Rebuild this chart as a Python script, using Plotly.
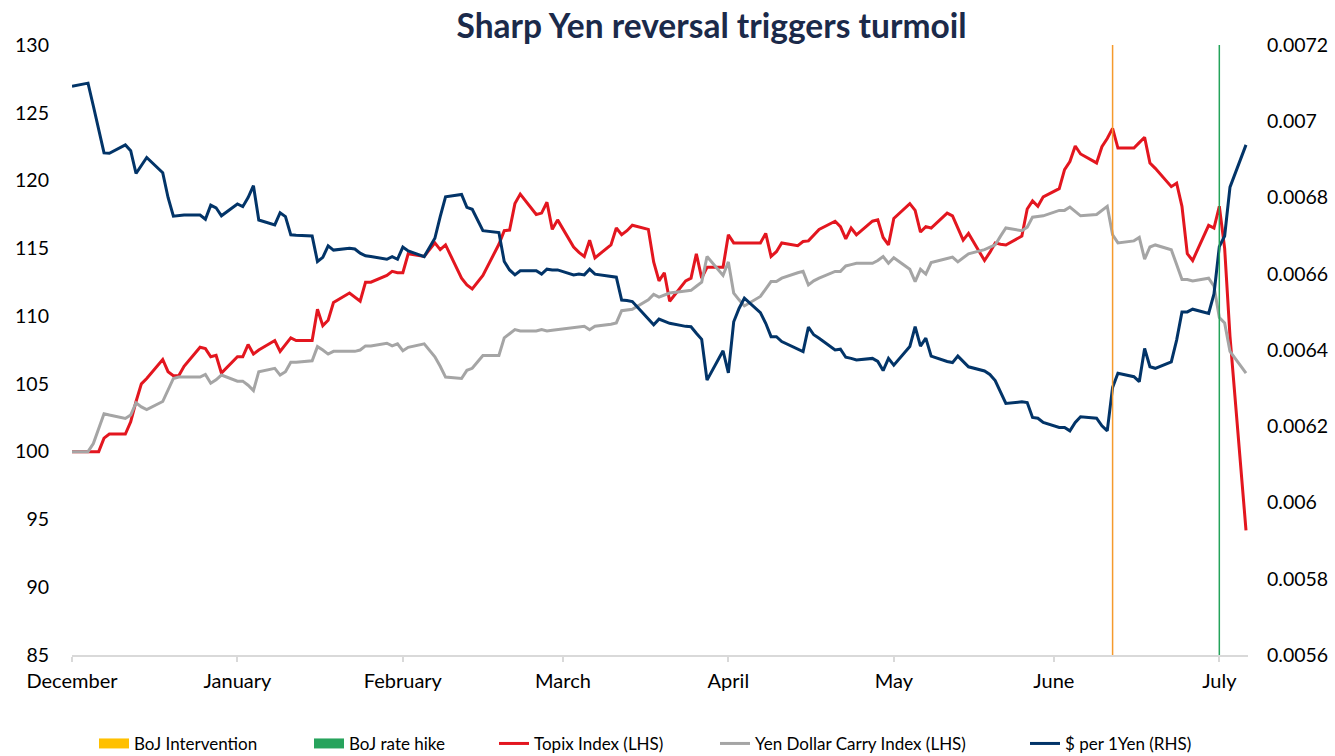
import pandas as pd
import plotly.graph_objects as go

# ---------------- data (weekdays, 29 Dec 2023 -> 5 Aug 2024) ----------------
dates = pd.bdate_range("2023-12-29", "2024-08-05")

topix = [
    100.0,
    100.0, 100.0, 100.0, 101.0, 101.3,
    101.3, 102.2, 103.7, 105.0, 105.4,
    106.8, 105.9, 105.6, 105.6, 106.3,
    107.7, 107.6, 107.0, 107.1, 105.8,
    107.0, 107.0, 107.9, 107.2, 107.5,
    108.2, 107.4, 107.9, 108.4, 108.2,
    108.2, 110.5, 109.3, 109.7, 111.0,
    111.7, 111.4, 111.1, 112.5, 112.5,
    113.0, 113.3, 113.2, 113.2, 114.6,
    114.4, 114.9, 115.4, 114.9, 115.25,
    112.8, 112.3, 112.0, 112.5, 113.0,
    115.3, 116.3, 116.35, 118.3, 119.0,
    117.5, 117.6, 118.4, 116.4, 117.1,
    115.1, 114.7, 114.4, 115.6, 114.3,
    115.25, 116.5, 116.0, 116.3, 116.7,
    116.4, 114.0, 112.6, 113.2, 111.1,
    112.6, 112.8, 114.6, 112.8, 113.6,
    113.6, 116.0, 115.4, 115.4, 115.4,
    115.4, 116.1, 114.4, 114.75, 115.4,
    115.2, 115.5, 115.55, 116.0, 116.4,
    117.0, 116.6, 115.7, 116.5, 116.0,
    117.0, 117.1, 115.8, 115.25, 117.2,
    118.3, 117.8, 116.2, 116.6, 116.5,
    117.6, 117.4, 116.5, 115.6, 116.1,
    114.1, 114.7, 115.4, 115.3, 115.25,
    115.9, 117.9, 118.5, 118.1, 118.8,
    119.4, 120.8, 121.4, 122.55, 121.96,
    121.3, 122.5, 123.1, 123.85, 122.4,
    122.4, 122.8, 123.2, 121.3, 120.9,
    119.55, 119.8, 118.1, 114.6, 114.1,
    116.7, 116.5, 118.1, 115.0, 108.5,
    94.2,
]

carry = [
    100.0,
    100.0, 100.6, 101.7, 102.8, 102.7,
    102.45, 102.7, 103.6, 103.3, 103.1,
    103.7, 104.5, 105.4, 105.5, 105.5,
    105.5, 105.7, 105.05, 105.3, 105.65,
    105.2, 105.2, 104.9, 104.5, 105.9,
    106.15, 105.65, 105.9, 106.6, 106.6,
    106.7, 107.75, 107.5, 107.2, 107.4,
    107.4, 107.4, 107.5, 107.8, 107.8,
    108.0, 107.8, 107.95, 107.45, 107.7,
    107.95, 107.5, 107.0, 106.3, 105.5,
    105.4, 106.0, 106.15, 106.6, 107.1,
    107.1, 108.4, 108.7, 109.0, 108.9,
    108.9, 109.0, 108.9, 108.95, 109.0,
    109.1, 109.2, 109.25, 109.0, 109.25,
    109.4, 109.5, 110.4, 110.45, 110.5,
    111.2, 111.6, 111.4, 111.55, 111.7,
    111.85, 111.9, 112.2, 112.5, 114.4,
    113.0, 114.0, 111.7, 111.2, 110.75,
    111.45, 112.0, 112.55, 112.55, 112.8,
    113.2, 113.3, 112.3, 112.6, 112.8,
    113.3, 113.3, 113.7, 113.8, 113.9,
    113.9, 114.1, 114.4, 113.9, 114.3,
    113.45, 112.55, 113.45, 113.1, 113.95,
    114.25, 114.35, 114.0, 114.3, 114.6,
    114.9, 115.1, 115.25, 115.9, 116.5,
    116.3, 116.55, 117.3, 117.35, 117.4,
    117.8, 117.8, 118.05, 117.7, 117.4,
    117.5, 117.8, 118.1, 116.0, 115.4,
    115.55, 115.8, 114.2, 115.1, 115.25,
    114.9, 113.8, 112.7, 112.7, 112.6,
    112.8, 112.2, 109.9, 109.5, 107.4,
    105.8,
]

usd_per_yen = [
    0.007092,
    0.007100, 0.007040, 0.006980, 0.006917, 0.006916,
    0.006938, 0.006923, 0.006863, 0.006884, 0.006905,
    0.006865, 0.006800, 0.006751, 0.006752, 0.006754,
    0.006754, 0.006743, 0.006780, 0.006773, 0.006752,
    0.006783, 0.006776, 0.006800, 0.006831, 0.006741,
    0.006728, 0.006760, 0.006750, 0.006702, 0.006701,
    0.006699, 0.006632, 0.006643, 0.006673, 0.006662,
    0.006667, 0.006665, 0.006654, 0.006647, 0.006645,
    0.006638, 0.006645, 0.006638, 0.006670, 0.006660,
    0.006645, 0.006670, 0.006693, 0.006750, 0.006802,
    0.006808, 0.006774, 0.006769, 0.006740, 0.006713,
    0.006708, 0.006632, 0.006610, 0.006597, 0.006608,
    0.006608, 0.006599, 0.006612, 0.006610, 0.006610,
    0.006597, 0.006599, 0.006597, 0.006612, 0.006599,
    0.006593, 0.006591, 0.006531, 0.006530, 0.006527,
    0.006483, 0.006466, 0.006481, 0.006475, 0.006470,
    0.006462, 0.006461, 0.006444, 0.006428, 0.006321,
    0.006398, 0.006340, 0.006474, 0.006509, 0.006536,
    0.006498, 0.006470, 0.006435, 0.006435, 0.006422,
    0.006403, 0.006396, 0.006460, 0.006440, 0.006431,
    0.006400, 0.006402, 0.006381, 0.006378, 0.006374,
    0.006378, 0.006370, 0.006346, 0.006378, 0.006360,
    0.006409, 0.006461, 0.006410, 0.006431, 0.006384,
    0.006370, 0.006367, 0.006384, 0.006370, 0.006356,
    0.006345, 0.006336, 0.006320, 0.006290, 0.006260,
    0.006264, 0.006262, 0.006223, 0.006221, 0.006210,
    0.006197, 0.006197, 0.006188, 0.006210, 0.006225,
    0.006221, 0.006201, 0.006188, 0.006302, 0.006339,
    0.006330, 0.006317, 0.006404, 0.006356, 0.006352,
    0.006369, 0.006426, 0.006500, 0.006500, 0.006507,
    0.006496, 0.006547, 0.006671, 0.006699, 0.006827,
    0.006938,
]

assert len(dates) == len(topix) == len(carry) == len(usd_per_yen)

event_names = ["BoJ Intervention", "BoJ rate hike"]
event_dates = ["2024-07-11", "2024-07-31"]
event_line_colors = ["#F59A2C", "#24A35A"]
event_legend_colors = ["#FFC000", "#27A35C"]

month_tick_dates = ["2023-12-29", "2024-01-29", "2024-02-29", "2024-03-30",
                    "2024-04-30", "2024-05-31", "2024-06-30", "2024-07-31"]
month_labels = ["December", "January", "February", "March",
                "April", "May", "June", "July"]

left_ticks = [85, 90, 95, 100, 105, 110, 115, 120, 125, 130]
right_ticks = [0.0056, 0.0058, 0.0060, 0.0062, 0.0064, 0.0066, 0.0068, 0.0070, 0.0072]
right_labels = ["0.0056", "0.0058", "0.006", "0.0062", "0.0064",
                "0.0066", "0.0068", "0.007", "0.0072"]

# ---------------- figure ----------------
FONT = "Lato, 'Open Sans', sans-serif"
fig = go.Figure()

legend_ids = ["legend", "legend2", "legend3", "legend4", "legend5"]
legend_px = [94, 309, 494, 715, 1025]   # left edge of each legend entry (px)

for i, (name, col) in enumerate(zip(event_names, event_legend_colors)):
    fig.add_trace(go.Scatter(x=[None], y=[None], mode="lines", name=name,
                             line=dict(color=col, width=10), legend=legend_ids[i]))

fig.add_trace(go.Scatter(x=dates, y=topix, mode="lines", name="Topix Index (LHS)",
                         line=dict(color="#E3161F", width=3), legend=legend_ids[2]))
fig.add_trace(go.Scatter(x=dates, y=carry, mode="lines", name="Yen Dollar Carry Index (LHS)",
                         line=dict(color="#A5A5A5", width=3), legend=legend_ids[3]))
fig.add_trace(go.Scatter(x=dates, y=usd_per_yen, mode="lines", name="$ per 1Yen (RHS)",
                         line=dict(color="#023468", width=3), yaxis="y2",
                         legend=legend_ids[4]))

for d, col in zip(event_dates, event_line_colors):
    fig.add_shape(type="line", xref="x", yref="paper", x0=d, x1=d, y0=0, y1=1,
                  line=dict(color=col, width=1.5), layer="above")

legend_common = dict(orientation="h", xref="container", yref="container",
                     xanchor="left", y=0.016, yanchor="middle",
                     font=dict(family=FONT, size=17, color="#000000"),
                     itemwidth=30, bgcolor="rgba(0,0,0,0)", borderwidth=0)

layout_legends = {}
for lid, px in zip(legend_ids, legend_px):
    layout_legends[lid] = dict(legend_common, x=px / 1335)

fig.update_layout(
    width=1335, height=756,
    margin=dict(l=72, r=87, t=45, b=101, autoexpand=False),
    paper_bgcolor="white", plot_bgcolor="white",
    font=dict(family=FONT, color="#000000"),
    title=dict(text="<b>Sharp Yen reversal triggers turmoil</b>",
               font=dict(family=FONT, size=33.5, color="#1B2A4A"),
               x=0.533, xanchor="center", y=0.965, yanchor="middle"),
    showlegend=True,
    xaxis=dict(type="date", automargin=False,
               range=["2023-12-29", "2024-08-05 09:00"],
               tickvals=month_tick_dates, ticktext=month_labels,
               tickfont=dict(family=FONT, size=20, color="#000000"),
               showgrid=False, zeroline=False,
               showline=True, linecolor="#D9D9D9", linewidth=1.5,
               ticks="outside", ticklen=5, tickcolor="#D9D9D9", tickwidth=1.5,
               ticklabelstandoff=2),
    yaxis=dict(range=[85, 130], tickvals=left_ticks, automargin=False,
               tickfont=dict(family=FONT, size=19.5, color="#000000"),
               showgrid=False, zeroline=False, showline=False, ticks="",
               ticklabelstandoff=22),
    yaxis2=dict(range=[0.0056, 0.0072], tickvals=right_ticks, ticktext=right_labels,
                overlaying="y", side="right", automargin=False,
                tickfont=dict(family=FONT, size=19.5, color="#000000"),
                showgrid=False, zeroline=False, showline=False, ticks="",
                ticklabelstandoff=18),
    **layout_legends,
)

fig.write_html("out.html", config={"displayModeBar": False},
               post_script="document.body.style.margin='0';")
